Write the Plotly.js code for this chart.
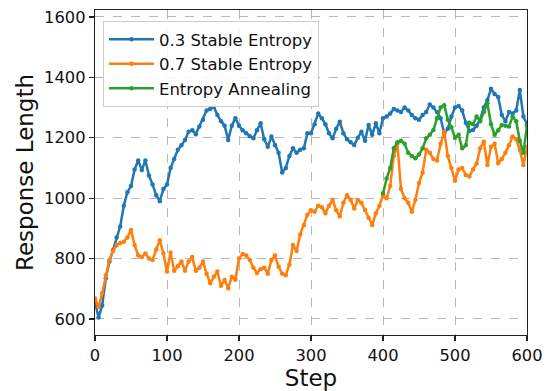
<!DOCTYPE html>
<html>
<head>
<meta charset="utf-8">
<script src="https://cdn.plot.ly/plotly-3.0.1.min.js"></script>
<style>
html, body { margin: 0; padding: 0; background: #fff; }
#chart { width: 551px; height: 391px; }
</style>
</head>
<body>
<div id="chart"></div>
<script>
// Steps (every 5 steps)
const stepsFull = [];
for (let s = 0; s <= 600; s += 5) stepsFull.push(s);
const stepsAnneal = [];
for (let s = 400; s <= 600; s += 5) stepsAnneal.push(s);

const seriesNames = ["0.3 Stable Entropy", "0.7 Stable Entropy", "Entropy Annealing"];

const stable03 = [
  655, 605, 645, 735, 790, 828, 870, 906, 975, 1020,
  1040, 1095, 1125, 1093, 1125, 1075, 1045, 1010, 990, 1030,
  1045, 1100, 1130, 1160, 1175, 1193, 1220, 1225, 1212, 1237,
  1260, 1290, 1295, 1303, 1275, 1255, 1240, 1193, 1240, 1265,
  1240, 1225, 1215, 1205, 1198, 1225, 1248, 1195, 1170, 1204,
  1175, 1150, 1085, 1100, 1140, 1165, 1150, 1160, 1165, 1215,
  1215, 1245, 1280, 1265, 1245, 1215, 1198, 1230, 1253, 1215,
  1195, 1185, 1176, 1200, 1220, 1190, 1242, 1210, 1248, 1215,
  1265, 1270, 1280, 1295, 1290, 1285, 1300, 1290, 1275, 1265,
  1260, 1275, 1285, 1310, 1300, 1285, 1265, 1215, 1230, 1270,
  1300, 1305, 1290, 1250, 1222, 1226, 1240, 1260, 1300, 1325,
  1362, 1345, 1335, 1275, 1255, 1285, 1280, 1290, 1358, 1270,
  1245
];

const stable07 = [
  668, 640, 685, 745, 795, 825, 845, 852, 856, 870,
  895, 845, 810, 805, 817, 800, 795, 830, 861, 817,
  757, 820, 760, 775, 790, 760, 790, 805, 760, 770,
  790, 750, 718, 740, 757, 710, 729, 702, 740, 730,
  800, 815, 810, 795, 770, 752, 765, 770, 750, 795,
  810, 773, 750, 745, 780, 845, 825, 880, 910, 945,
  960, 955, 975, 970, 950, 975, 994, 960, 940, 985,
  1010, 995, 966, 994, 985, 961, 935, 911, 950, 975,
  1010, 1000, 1040, 1140, 1180, 1030, 1000, 985, 955, 995,
  1050, 1085, 1160, 1150, 1130, 1125, 1180, 1220, 1140, 1100,
  1058, 1095, 1100, 1077, 1072, 1095, 1115, 1165, 1187, 1110,
  1170, 1180, 1116, 1130, 1150, 1175, 1204, 1195, 1160, 1110,
  1170
];

const annealing = [
  1016, 1065, 1100, 1165, 1185, 1190, 1180, 1150, 1140, 1132,
  1145, 1165, 1198, 1210, 1226, 1265, 1300, 1308, 1260, 1235,
  1200, 1210, 1165, 1175, 1250, 1245, 1270, 1255, 1285, 1314,
  1245, 1210, 1225, 1242, 1240, 1237, 1270, 1255, 1190, 1150,
  1240
];

const xTicks = [0, 100, 200, 300, 400, 500, 600];
const yTicks = [600, 800, 1000, 1200, 1400, 1600];
const colors = ["#1f77b4", "#ff7f0e", "#2ca02c"];

function mk(x, y, i) {
  return {
    x: x, y: y, name: seriesNames[i], type: "scatter", mode: "lines+markers",
    line: { color: colors[i], width: 2.5 },
    marker: { color: colors[i], size: 4.5 }
  };
}

const data = [
  mk(stepsFull, stable03, 0),
  mk(stepsFull, stable07, 1),
  mk(stepsAnneal, annealing, 2)
];

const axisCommon = {
  showline: true, mirror: true, linecolor: "#222", linewidth: 1.2,
  ticks: "outside", ticklen: 5, tickwidth: 1.2, tickcolor: "#222",
  showgrid: true, gridcolor: "#b8b8b8", griddash: "dash", gridwidth: 1,
  zeroline: false,
  tickfont: { family: "DejaVu Sans", size: 16.3, color: "#111" }
};

const layout = {
  width: 551, height: 391,
  margin: { l: 95, r: 24, t: 10, b: 56 },
  paper_bgcolor: "#fff", plot_bgcolor: "#fff",
  font: { family: "DejaVu Sans", color: "#111" },
  showlegend: true,
  legend: {
    x: 0.0185, y: 0.966, xanchor: "left", yanchor: "top",
    bgcolor: "rgba(255,255,255,0.85)", bordercolor: "#cccccc", borderwidth: 1,
    font: { family: "DejaVu Sans", size: 16.5, color: "#111" },
    itemwidth: 45
  },
  xaxis: Object.assign({}, axisCommon, {
    range: [0, 600], tickvals: xTicks,
    title: { text: "Step", font: { family: "DejaVu Sans", size: 23, color: "#111" }, standoff: 2 }
  }),
  yaxis: Object.assign({}, axisCommon, {
    range: [547, 1623], tickvals: yTicks,
    title: { text: "Response Length", font: { family: "DejaVu Sans", size: 23, color: "#111" }, standoff: 4 }
  })
};

Plotly.newPlot("chart", data, layout, { displayModeBar: false, staticPlot: true });
</script>
</body>
</html>
